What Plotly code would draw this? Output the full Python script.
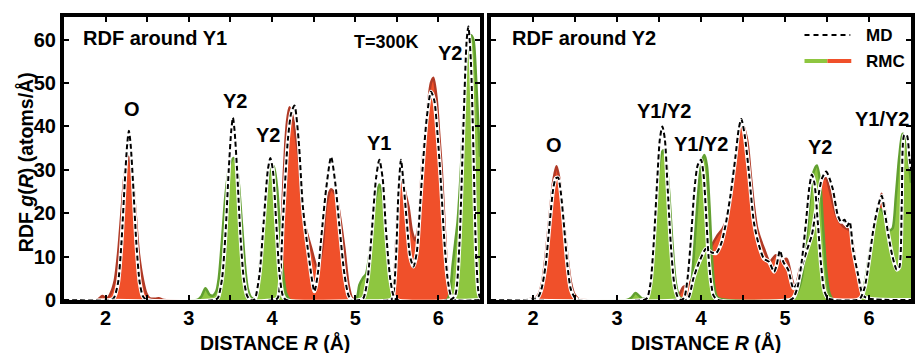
import plotly.graph_objects as go

# ---------------- data ----------------
# Left panel: RDF around Y1  (O = Y1-O partial, Y = Y1-Y partial)
Y1_RMC_O_R = [1.50, 1.90, 1.96, 2.00, 2.02, 2.06, 2.11, 2.15, 2.19, 2.23, 2.275, 2.32, 2.36, 2.40, 2.45, 2.49,
              2.53, 2.60, 2.64, 2.70, 4.00, 4.07, 4.10, 4.13, 4.16, 4.18, 4.21, 4.25, 4.29, 4.33, 4.36, 4.40,
              4.47, 4.55, 4.61, 4.65, 4.71, 4.77, 4.81, 4.87, 4.92, 4.96, 5.00, 5.41, 5.44, 5.47, 5.50, 5.53,
              5.55, 5.58, 5.61, 5.64, 5.68, 5.72, 5.76, 5.80, 5.84, 5.88, 5.91, 5.94, 5.98, 6.01, 6.04, 6.08,
              6.12, 6.16, 6.20, 6.50]
Y1_RMC_O_G = [0, 0, 0.9, 0.5, 0.4, 1.5, 4.5, 10.7, 20, 29.1, 33, 29.1, 20, 10.7, 4.5, 1.5,
              0.4, 0.3, 0.4, 0, 0, 1.5, 8, 24, 36, 41, 44.4, 42, 37, 31, 22, 17,
              12, 7, 12.6, 21.7, 25.5, 24, 20, 11.8, 3.5, 0.5, 0, 0, 0.5, 5, 17, 26,
              27.3, 26.5, 24, 21.5, 16, 13.7, 17, 30, 38.3, 46, 50, 51.2, 46, 38, 30, 15,
              3.5, 0.5, 0, 0]

Y1_RMC_Y_R = [1.50, 3.10, 3.15, 3.20, 3.25, 3.29, 3.33, 3.36, 3.40, 3.44, 3.48, 3.51, 3.54, 3.57, 3.60, 3.64,
              3.68, 3.71, 3.75, 3.79, 3.82, 3.86, 3.90, 3.94, 3.98, 4.02, 4.06, 4.09, 4.13, 4.17, 4.22,
              4.98, 5.02, 5.05, 5.09, 5.13, 5.16, 5.19, 5.23, 5.29, 5.33, 5.37, 5.42, 5.46, 5.50,
              6.10, 6.14, 6.17, 6.20, 6.23, 6.27, 6.31, 6.35, 6.39, 6.42, 6.45, 6.48, 6.50]
Y1_RMC_Y_G = [0, 0, 0.8, 2.7, 1.2, 1.0, 2, 5, 14, 24, 30, 32, 32.7, 31.5, 27, 17,
              7, 2.5, 0.6, 0.5, 2, 9, 19, 26, 30, 30.8, 26, 18, 7, 1.5, 0,
              0, 0.5, 3.5, 5, 6, 9, 14, 21.7, 26.6, 24, 14, 5.8, 1, 0,
              0, 2, 8, 13, 18, 30, 46, 57, 61, 60, 52, 40, 33]

Y1_MD_O_R = [1.50, 2.06, 2.10, 2.15, 2.19, 2.23, 2.26, 2.28, 2.30, 2.33, 2.37, 2.41, 2.45, 2.50,
             4.03, 4.07, 4.13, 4.19, 4.23, 4.27, 4.32, 4.37, 4.43, 4.51, 4.55, 4.59, 4.65, 4.71, 4.76,
             4.81, 4.87, 4.92, 4.96, 5.42, 5.45, 5.49, 5.52, 5.55, 5.58, 5.62, 5.66, 5.70, 5.74, 5.78,
             5.82, 5.86, 5.91, 5.95, 5.99, 6.03, 6.07, 6.11, 6.15, 6.20, 6.50]
Y1_MD_O_G = [0, 0, 0.5, 4, 13, 27, 36, 39, 36, 27, 13, 4, 0.8, 0,
             0, 0.5, 18, 36.8, 43, 44.8, 36.8, 21.7, 11.8, 2, 6, 14, 25.5, 33, 27,
             17, 6, 1, 0, 0, 0.5, 10, 25, 32.3, 27, 18, 10, 7.7, 11, 22,
             33, 42, 48, 46, 38, 27, 14, 5, 1, 0, 0]

Y1_MD_Y_R = [1.50, 3.31, 3.35, 3.40, 3.44, 3.48, 3.51, 3.53, 3.55, 3.58, 3.62, 3.66, 3.70, 3.74, 3.78,
             3.80, 3.85, 3.90, 3.95, 3.98, 4.01, 4.05, 4.09, 4.13, 4.17, 5.06, 5.10, 5.15, 5.20,
             5.25, 5.29, 5.33, 5.37, 5.42, 5.46, 5.50, 6.14, 6.20, 6.25, 6.30, 6.34, 6.36, 6.39,
             6.42, 6.45, 6.48, 6.50]
Y1_MD_Y_G = [0, 0, 0.5, 5, 15, 30, 39, 42, 39, 30, 15, 5, 1, 0, 0,
             0.5, 6, 18, 30, 32.7, 30, 18, 6, 1, 0, 0, 0.5, 5, 16,
             28, 32.3, 28, 16, 5, 1, 0, 0, 1, 12, 40, 60, 63, 55,
             35, 12, 2, 0.5]

# Right panel: RDF around Y2
Y2_RMC_O_R = [1.50, 1.90, 1.98, 2.02, 2.07, 2.11, 2.15, 2.195, 2.24, 2.28, 2.32, 2.365, 2.41, 2.45, 2.49,
              2.54, 2.60, 3.68, 3.74, 3.79, 3.84, 3.90, 3.98, 4.06, 4.14, 4.20, 4.26, 4.32, 4.36, 4.42,
              4.46, 4.49, 4.55, 4.59, 4.63, 4.67, 4.75, 4.82, 4.89, 4.95, 5.02, 5.08, 5.12, 5.18, 5.24,
              5.30, 5.37, 5.44, 5.49, 5.53, 5.58, 5.62, 5.69, 5.77, 5.81, 5.85, 5.91, 5.95, 6.00, 6.05,
              6.09, 6.12, 6.15, 6.18, 6.21, 6.24, 6.27, 6.30, 6.34, 6.38, 6.50]
Y2_RMC_O_G = [0, 0, 0.3, 0.3, 1.4, 4.2, 10, 18.7, 27.2, 30.8, 27.2, 18.7, 10, 4.2, 1.4,
              0.3, 0, 0, 1.2, 3, 3.5, 5, 8, 10, 13, 15, 16.5, 19.4, 25.5, 34.5,
              39.5, 40.6, 36.8, 29.2, 21.7, 16.4, 11.8, 8.8, 10.3, 9, 9.5, 5, 2.7, 7.3, 11,
              17, 24, 27.7, 28, 25.5, 21.5, 19, 17, 16, 12.6, 7.3, 2.7, 0.5, 0, 3,
              12, 21, 24.5, 22, 18, 15, 9, 4, 1, 0, 0]

Y2_RMC_Y_R = [1.50, 3.12, 3.17, 3.22, 3.26, 3.30, 3.36, 3.40, 3.44, 3.48, 3.52, 3.55, 3.58, 3.62, 3.66,
              3.70, 3.74, 3.78, 3.84, 3.88, 3.92, 3.96, 4.00, 4.04, 4.07, 4.10, 4.13, 4.16, 4.20,
              5.08, 5.14, 5.20, 5.25, 5.30, 5.34, 5.38, 5.42, 5.45, 5.49, 5.53, 5.58,
              5.88, 5.92, 5.96, 6.00, 6.04, 6.08, 6.12, 6.16, 6.20, 6.24, 6.28, 6.32, 6.36, 6.40,
              6.43, 6.46, 6.50]
Y2_RMC_Y_G = [0, 0, 0.5, 1.6, 1.0, 0.3, 0.5, 4, 14, 26, 33, 34.5, 33, 25, 13,
              4, 0.8, 0.2, 0.3, 3, 12, 23, 31, 33.4, 31, 22, 10, 3, 0.5,
              0.3, 1.5, 5, 13, 24, 29.5, 31, 27, 18, 7, 1.5, 0,
              0, 1.5, 5, 10, 15, 19, 21, 20.5, 18, 16, 16.5, 24, 33, 38.3,
              38, 34, 27]

Y2_MD_O_R = [1.50, 2.05, 2.10, 2.15, 2.20, 2.24, 2.27, 2.30, 2.33, 2.37, 2.41, 2.45, 2.50, 2.55,
             3.80, 3.85, 3.91, 3.98, 4.06, 4.12, 4.18, 4.24, 4.29, 4.35, 4.41, 4.45, 4.48, 4.52,
             4.57, 4.63, 4.69, 4.75, 4.81, 4.87, 4.90, 4.94, 4.98, 5.04, 5.10, 5.16, 5.22, 5.27,
             5.32, 5.38, 5.44, 5.49, 5.53, 5.57, 5.63, 5.67, 5.71, 5.74, 5.77, 5.81, 5.87, 5.93,
             6.00, 6.50]
Y2_MD_O_G = [0, 0.5, 2.5, 8, 18, 25.5, 28, 28.2, 25, 17, 8, 2.5, 0.5, 0,
             0, 0.5, 5, 8.8, 11.8, 11, 10.8, 13, 17, 24, 33, 39.5, 41.7, 38,
             29.5, 17.9, 12.6, 9.5, 8.8, 6.5, 8, 11.4, 8.8, 6.9, 2.7, 4.5, 9, 12,
             15, 22, 28, 29.6, 28, 25.5, 19.4, 18, 18.5, 17, 18, 11.8, 5.8, 1,
             0.3, 0]

Y2_MD_Y_R = [1.50, 3.32, 3.36, 3.40, 3.44, 3.48, 3.51, 3.54, 3.57, 3.60, 3.64, 3.68, 3.72, 3.76,
             3.80, 3.84, 3.88, 3.92, 3.96, 4.00, 4.03, 4.06, 4.09, 4.12, 4.15, 4.20,
             5.06, 5.10, 5.15, 5.20, 5.25, 5.29, 5.32, 5.35, 5.39, 5.43, 5.47, 5.52,
             5.86, 5.90, 5.95, 6.00, 6.05, 6.10, 6.15, 6.19, 6.23, 6.28, 6.33, 6.36, 6.39,
             6.42, 6.45, 6.48, 6.50]
Y2_MD_Y_G = [0, 0, 0.5, 4, 14, 28, 37, 40, 37, 27, 13, 4, 0.8, 0,
             0.5, 5, 14, 25, 31, 32.3, 29, 20, 10, 4, 1, 0,
             0, 0.5, 3, 9, 18, 26, 28.9, 27, 18, 8, 2, 0.3,
             0, 0.5, 3, 9, 16, 21, 24, 20, 15, 10, 7, 7.5, 22,
             38, 38, 33, 30]

X_TICK_VALS = [1.5, 2, 2.5, 3, 3.5, 4, 4.5, 5, 5.5, 6, 6.5]
X_TICK_TEXT = ["", "2", "", "3", "", "4", "", "5", "", "6", ""]
Y_TICK_VALS = [0, 10, 20, 30, 40, 50, 60]
Y_TICK_TEXT = ["0", "10", "20", "30", "40", "50", "60"]

LEFT_PEAK_LABELS = [("O", 2.32, 44.0), ("Y2", 3.56, 45.9), ("Y2", 3.95, 38.0),
                    ("Y1", 5.29, 36.1), ("Y2", 6.14, 56.8)]
RIGHT_PEAK_LABELS = [("O", 2.25, 35.7), ("Y1/Y2", 3.56, 43.6), ("Y1/Y2", 4.00, 36.0),
                     ("Y2", 5.42, 35.3), ("Y1/Y2", 6.16, 41.8)]

# ---------------- styling ----------------
FONT = "Liberation Sans"
RED_FILL, RED_LINE = "#F0502A", "#B03A26"
GREEN_FILL, GREEN_LINE = "#8EC640", "#62A030"

W, H = 915, 353
ML, MR, MT, MB = 64, 0, 17, 53
PW, PH = W - ML - MR, H - MT - MB


def px_x(px):
    return (px - ML) / PW


def px_y(py):
    return (H - MB - py) / PH


fig = go.Figure()


def add_panel(xa, ya, rmc_o, rmc_y, md_o, md_y):
    for (r, g), fc, lc in [(rmc_o, RED_FILL, RED_LINE), (rmc_y, GREEN_FILL, GREEN_LINE)]:
        fig.add_trace(go.Scatter(x=r, y=g, xaxis=xa, yaxis=ya, mode="lines",
                                 line=dict(color=lc, width=2.5, shape="spline", smoothing=0.7),
                                 fill="tozeroy", fillcolor=fc, showlegend=False, hoverinfo="skip"))
    for r, g in [md_o, md_y]:
        fig.add_trace(go.Scatter(x=r, y=g, xaxis=xa, yaxis=ya, mode="lines",
                                 line=dict(color="white", width=4, shape="spline", smoothing=0.7),
                                 showlegend=False, hoverinfo="skip"))
        fig.add_trace(go.Scatter(x=r, y=g, xaxis=xa, yaxis=ya, mode="lines",
                                 line=dict(color="black", width=2, dash="5px,3px", shape="spline",
                                           smoothing=0.7),
                                 showlegend=False, hoverinfo="skip"))


add_panel("x", "y", (Y1_RMC_O_R, Y1_RMC_O_G), (Y1_RMC_Y_R, Y1_RMC_Y_G),
          (Y1_MD_O_R, Y1_MD_O_G), (Y1_MD_Y_R, Y1_MD_Y_G))
add_panel("x2", "y2", (Y2_RMC_O_R, Y2_RMC_O_G), (Y2_RMC_Y_R, Y2_RMC_Y_G),
          (Y2_MD_O_R, Y2_MD_O_G), (Y2_MD_Y_R, Y2_MD_Y_G))

tickfont = dict(family=FONT, size=20, color="black", weight="bold")
xcommon = dict(range=[1.5, 6.5], tickmode="array", tickvals=X_TICK_VALS, ticktext=X_TICK_TEXT,
               ticks="inside", ticklen=5, tickwidth=2, tickcolor="black",
               showline=True, linewidth=4, linecolor="black", mirror="allticks",
               showgrid=False, zeroline=False, tickfont=tickfont, fixedrange=True,
               ticklabelstandoff=-3)
ycommon = dict(range=[0, 65.2], tickmode="array", tickvals=Y_TICK_VALS, ticktext=Y_TICK_TEXT,
               ticks="inside", ticklen=5, tickwidth=2, tickcolor="black",
               showline=True, linewidth=4, linecolor="black", mirror="allticks",
               showgrid=False, zeroline=False, tickfont=tickfont, fixedrange=True)

fig.update_layout(
    width=W, height=H, margin=dict(l=ML, r=MR, t=MT, b=MB),
    paper_bgcolor="white", plot_bgcolor="white",
    xaxis=dict(xcommon, domain=[0, px_x(482)], anchor="y"),
    yaxis=dict(ycommon, domain=[0, 1], anchor="x"),
    xaxis2=dict(xcommon, domain=[px_x(493), 1], anchor="y2"),
    yaxis2=dict(ycommon, domain=[0, 1], anchor="x2", showticklabels=False),
    showlegend=False,
)

ann = []
lab_font = dict(family=FONT, size=20, color="black", weight="bold")
for xr, yr, labels in [("x", "y", LEFT_PEAK_LABELS), ("x2", "y2", RIGHT_PEAK_LABELS)]:
    for t, r, g in labels:
        ann.append(dict(text=t, x=r, y=g, xref=xr, yref=yr, showarrow=False,
                        xanchor="center", yanchor="middle", font=lab_font))

ann.append(dict(text="RDF around Y1", x=1.71, y=60.3, xref="x", yref="y", showarrow=False,
                xanchor="left", yanchor="middle", font=lab_font))
ann.append(dict(text="T=300K", x=5.37, y=59.5, xref="x", yref="y", showarrow=False,
                xanchor="center", yanchor="middle", font=dict(lab_font, size=18)))
ann.append(dict(text="RDF around Y2", x=1.73, y=60.3, xref="x2", yref="y2", showarrow=False,
                xanchor="left", yanchor="middle", font=lab_font))

title_font = dict(family=FONT, size=19.5, color="black", weight="bold")
ann.append(dict(text="DISTANCE <i>R</i> (Å)", x=4.04, y=px_y(342), xref="x", yref="paper",
                showarrow=False, xanchor="center", yanchor="middle", font=title_font))
ann.append(dict(text="DISTANCE <i>R</i> (Å)", x=4.06, y=px_y(342), xref="x2", yref="paper",
                showarrow=False, xanchor="center", yanchor="middle", font=title_font))
ann.append(dict(text="RDF <i>g</i>(<i>R</i>) (atoms/Å)", x=px_x(25), y=px_y(162),
                xref="paper", yref="paper", showarrow=False, textangle=-90,
                xanchor="center", yanchor="middle", font=dict(title_font, size=19.5)))

leg_font = dict(family=FONT, size=17, color="black", weight="bold")
ann.append(dict(text="MD", x=px_x(868), y=px_y(35), xref="paper", yref="paper", showarrow=False,
                xanchor="left", yanchor="middle", font=leg_font))
ann.append(dict(text="RMC", x=px_x(868), y=px_y(61), xref="paper", yref="paper", showarrow=False,
                xanchor="left", yanchor="middle", font=leg_font))

shapes = [
    dict(type="line", xref="paper", yref="paper", x0=px_x(808), x1=px_x(854), y0=px_y(35), y1=px_y(35),
         line=dict(color="black", width=2, dash="5px,4px")),
    dict(type="line", xref="paper", yref="paper", x0=px_x(808), x1=px_x(831), y0=px_y(61), y1=px_y(61),
         line=dict(color=GREEN_FILL, width=4)),
    dict(type="line", xref="paper", yref="paper", x0=px_x(831), x1=px_x(855), y0=px_y(61), y1=px_y(61),
         line=dict(color=RED_FILL, width=4)),
]
fig.update_layout(annotations=ann, shapes=shapes)

fig.write_html("out.html")
